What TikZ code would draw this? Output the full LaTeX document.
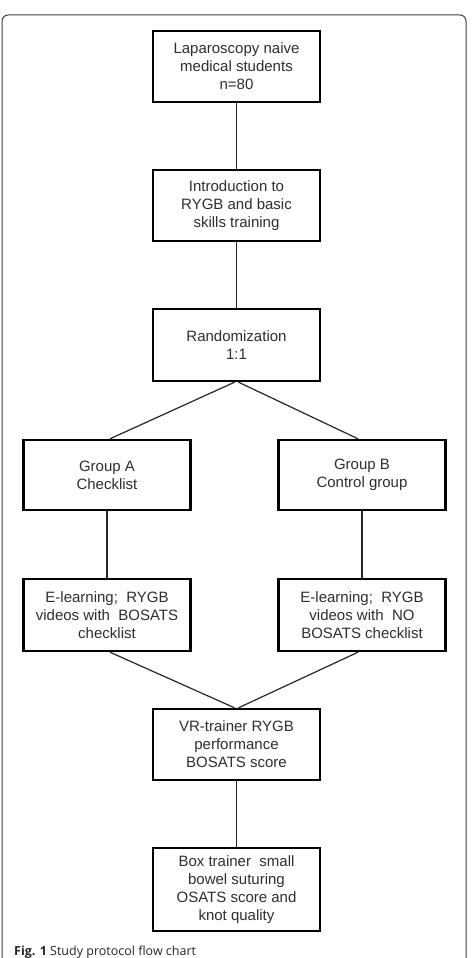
\documentclass[tikz,border=0pt]{standalone}
\usepackage{fontspec}
\setmainfont{Liberation Sans}
\newfontfamily\capfont{Open Sans}
\begin{document}
\begin{tikzpicture}[x=1pt,y=-1pt,
  flowbox/.style={draw=black, line width=2.4pt, minimum width=167pt, inner sep=0pt,
    align=center, text=black!82, font=\fontsize{15}{18}\selectfont},
  link/.style={draw=black!85, line width=1.2pt}]
  \useasboundingbox (0,0) rectangle (471,958);
  \begin{scope}
    \clip (0,0) rectangle (471,958);
    \draw[black!75, line width=1pt, rounded corners=6pt] (2,15) rectangle (466,990);
  \end{scope}

  % boxes of the flow
  \node[flowbox, minimum height=71pt] (naive) at (236.5,66.5) {Laparoscopy naive\\medical students\\n=80};
  \node[flowbox, minimum height=71pt] (intro) at (236.5,205.5) {Introduction to\\RYGB and basic\\skills training};
  \node[flowbox, minimum height=72pt] (rand) at (236.5,345) {Randomization\\1:1};
  \node[flowbox, minimum height=70pt] (grpA) at (107,475) {Group A\\Checklist};
  \node[flowbox, minimum height=70pt] (grpB) at (362,475) {Group B\\Control group};
  \node[flowbox, minimum height=72pt] (elA) at (107,615) {E-learning;\ \ RYGB\\videos with\ \ BOSATS\\checklist};
  \node[flowbox, minimum height=72pt] (elB) at (362,615) {E-learning;\ \ RYGB\\videos with\ \ NO\\BOSATS checklist};
  \node[flowbox, minimum height=71pt] (vr) at (236.5,744.5) {VR-trainer RYGB\\performance\\BOSATS score};
  \node[flowbox, minimum height=83pt] (box) at (236.5,889.5) {Box trainer\ \ small\\bowel suturing\\OSATS score and\\knot quality};

  % connectors
  \draw[link] (naive.south) -- (intro.north);
  \draw[link] (intro.south) -- (rand.north);
  \draw[link] ([xshift=-2pt]rand.south) -- ([xshift=3pt]grpA.north);
  \draw[link] ([xshift=2pt]rand.south) -- ([xshift=-4pt]grpB.north);
  \draw[link] (grpA.south) -- (elA.north);
  \draw[link] (grpB.south) -- (elB.north);
  \draw[link] ([xshift=3pt]elA.south) -- ([xshift=-2pt]vr.north);
  \draw[link] ([xshift=-4pt]elB.south) -- ([xshift=2pt]vr.north);
  \draw[link] (vr.south) -- (box.north);

  % caption
  \node[anchor=base west, inner sep=0pt, text=black!85, font=\capfont\fontsize{12.5}{15}\selectfont] (cap) at (14,955.5) {\textbf{Fig. 1} Study protocol flow chart};
\end{tikzpicture}
\end{document}
